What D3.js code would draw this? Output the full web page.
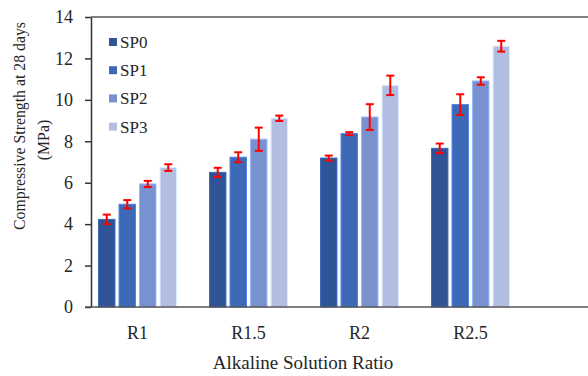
<!DOCTYPE html>
<html>
<head>
<meta charset="utf-8">
<script src="https://cdn.jsdelivr.net/npm/d3@7"></script>
<style>
  body { margin: 0; background: #fff; }
</style>
</head>
<body>
<svg id="chart"></svg>
<script>
var w = 588;
var h = 376;

var categories = ['R1', 'R1.5', 'R2', 'R2.5'];
var seriesNames = ['SP0', 'SP1', 'SP2', 'SP3'];
var colors = ['#2f5597', '#3d69b6', '#7892cf', '#b2bee1'];
// values per series, one per category
var sp0 = [4.23, 6.50, 7.19, 7.66];
var sp1 = [4.96, 7.23, 8.37, 9.77];
var sp2 = [5.94, 8.10, 9.17, 10.91];
var sp3 = [6.73, 9.11, 10.70, 12.59];
// error (+/-)
var sp0Err = [0.23, 0.22, 0.12, 0.23];
var sp1Err = [0.20, 0.24, 0.07, 0.50];
var sp2Err = [0.15, 0.56, 0.62, 0.18];
var sp3Err = [0.16, 0.13, 0.47, 0.26];
var yTicks = [0, 2, 4, 6, 8, 10, 12, 14];

var values = [sp0, sp1, sp2, sp3];
var errors = [sp0Err, sp1Err, sp2Err, sp3Err];

var plotLeft = 91, plotTop = 17, plotBottom = 307, plotRight = 588;
var serif = "'Liberation Serif'";
var ink = '#262626';

var svg = d3.select('#chart').attr('width', w).attr('height', h);

var y = d3.scaleLinear().domain([0, 14]).range([plotBottom, plotTop]);
var x0 = d3.scaleBand().domain(categories).range([82, 526]);
var x1 = d3.scaleBand().domain(seriesNames).range([0, 80]).paddingInner(0.2).paddingOuter(0.05);

var rows = [];
categories.forEach(function (c, ci) {
  seriesNames.forEach(function (s, si) {
    rows.push({cat: c, ser: s, si: si, v: values[si][ci], e: errors[si][ci]});
  });
});

function barX(d) {
  return x0(d.cat) + x0.bandwidth() / 2 - 40 + x1(d.ser);
}

// bars
svg.selectAll('rect.bar')
  .data(rows)
  .enter()
  .append('rect')
  .attr('class', 'bar')
  .attr('x', barX)
  .attr('y', function (d) { return y(d.v); })
  .attr('width', x1.bandwidth())
  .attr('height', function (d) { return y(0) - y(d.v); })
  .attr('fill', function (d) { return colors[d.si]; })
  .attr('stroke', function (d) { return d3.color(colors[d.si]).brighter(0.6); })
  .attr('stroke-width', 1);

// error bars
var eb = svg.selectAll('g.err')
  .data(rows)
  .enter()
  .append('g')
  .attr('class', 'err')
  .attr('stroke', '#ff0000')
  .attr('stroke-width', 2);

eb.append('line')
  .attr('x1', function (d) { return barX(d) + x1.bandwidth() / 2; })
  .attr('x2', function (d) { return barX(d) + x1.bandwidth() / 2; })
  .attr('y1', function (d) { return y(d.v + d.e); })
  .attr('y2', function (d) { return y(d.v - d.e); });

[1, -1].forEach(function (sgn) {
  eb.append('line')
    .attr('x1', function (d) { return barX(d) + x1.bandwidth() / 2 - 4; })
    .attr('x2', function (d) { return barX(d) + x1.bandwidth() / 2 + 4; })
    .attr('y1', function (d) { return y(d.v + sgn * d.e); })
    .attr('y2', function (d) { return y(d.v + sgn * d.e); });
});

// y axis
var yAxis = svg.append('g')
  .attr('transform', 'translate(' + plotLeft + ',0)')
  .call(d3.axisLeft(y).tickValues(yTicks).tickSize(6).tickPadding(12).tickSizeOuter(0));
yAxis.select('.domain').attr('stroke', '#333').attr('stroke-width', 1.5);
yAxis.selectAll('.tick line').attr('stroke', '#333').attr('stroke-width', 1.5);
yAxis.selectAll('.tick text')
  .style('font-family', serif)
  .style('font-size', '18px')
  .attr('fill', ink);

// top frame and baseline
svg.append('line')
  .attr('x1', plotLeft).attr('x2', plotRight)
  .attr('y1', y(14)).attr('y2', y(14))
  .attr('stroke', '#555').attr('stroke-width', 1.5);
svg.append('line')
  .attr('x1', plotLeft - 6).attr('x2', plotRight)
  .attr('y1', y(0)).attr('y2', y(0))
  .attr('stroke', '#555').attr('stroke-width', 1.5);

// category labels
svg.selectAll('text.cat')
  .data(categories)
  .enter()
  .append('text')
  .attr('class', 'cat')
  .attr('x', function (d) { return x0(d) + x0.bandwidth() / 2; })
  .attr('y', 339)
  .attr('text-anchor', 'middle')
  .style('font-family', serif)
  .style('font-size', '18px')
  .attr('fill', ink)
  .text(function (d) { return d; });

// axis titles
svg.append('text')
  .attr('x', 303)
  .attr('y', 369)
  .attr('text-anchor', 'middle')
  .style('font-family', serif)
  .style('font-size', '19px')
  .attr('fill', ink)
  .text('Alkaline Solution Ratio');

svg.append('text')
  .attr('transform', 'translate(25,126) rotate(-90)')
  .attr('text-anchor', 'middle')
  .style('font-family', serif)
  .style('font-size', '15.8px')
  .attr('fill', ink)
  .text('Compressive Strength at 28 days');
svg.append('text')
  .attr('transform', 'translate(49,140) rotate(-90)')
  .attr('text-anchor', 'middle')
  .style('font-family', serif)
  .style('font-size', '15.8px')
  .attr('fill', ink)
  .text('(MPa)');

// legend
var lg = svg.selectAll('g.legend')
  .data(seriesNames)
  .enter()
  .append('g')
  .attr('class', 'legend')
  .attr('transform', function (d, i) { return 'translate(109,' + (42 + i * 28.2) + ')'; });
lg.append('rect')
  .attr('x', 0).attr('y', -4)
  .attr('width', 8).attr('height', 8)
  .attr('fill', function (d, i) { return colors[i]; });
lg.append('text')
  .attr('x', 11)
  .attr('y', 6)
  .style('font-family', serif)
  .style('font-size', '17px')
  .attr('fill', ink)
  .text(function (d) { return d; });
</script>
</body>
</html>
